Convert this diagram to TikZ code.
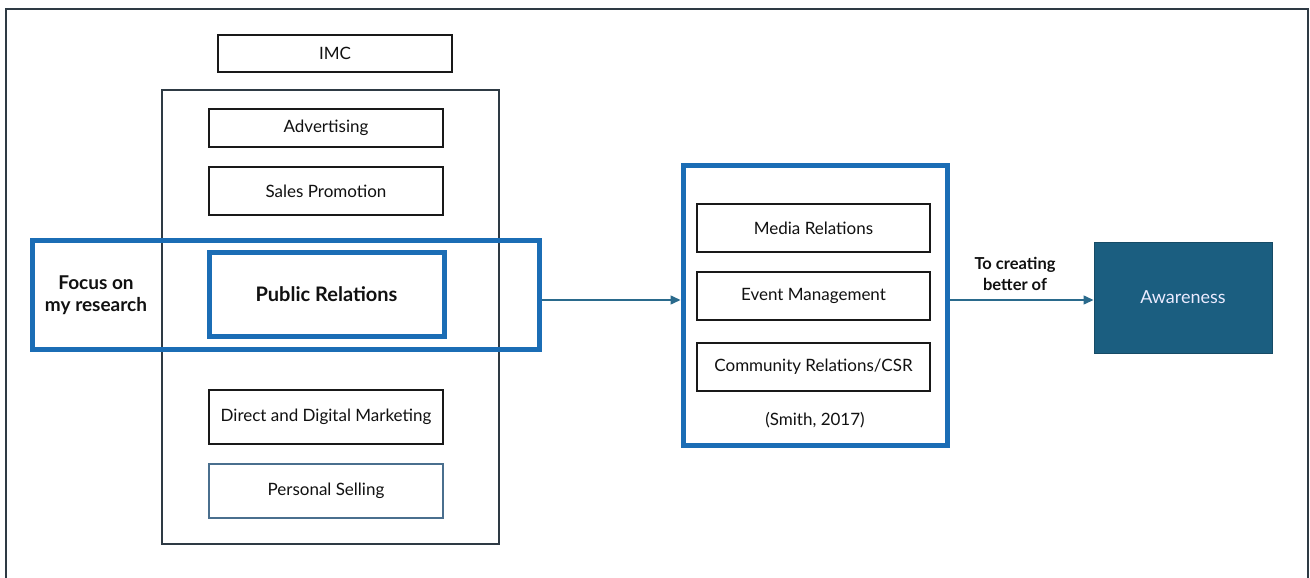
\documentclass[tikz,border=0pt]{standalone}
\usepackage{fontspec}
\setmainfont{Lato}
\usetikzlibrary{arrows.meta}
\definecolor{frameC}{HTML}{2E3A44}
\definecolor{blueC}{HTML}{1B6DB5}
\definecolor{arrowC}{HTML}{2A6A8C}
\definecolor{awareC}{HTML}{1B5E80}
\definecolor{psC}{HTML}{4A6F8E}
\definecolor{txtC}{HTML}{111111}
\tikzset{
  box/.style={draw=black!90, line width=1.5pt, fill=white, inner sep=0pt, text=txtC, font=\fontsize{17}{21}\selectfont},
  bluebox/.style={draw=blueC, line width=5pt, inner sep=0pt},
  conn/.style={draw=arrowC, line width=1.5pt, -{Triangle[length=10pt,width=9pt]}},
  boldlab/.style={font=\bfseries\fontsize{19}{22}\selectfont, align=center, inner sep=0pt, text=txtC}
}
\begin{document}
\begin{tikzpicture}[x=1pt,y=-1pt]
\useasboundingbox (0,0) rectangle (1310,578);
\clip (0,0) rectangle (1310,578);
\fill[white] (0,0) rectangle (1310,578);
% outer frame
\node[draw=frameC, line width=1.5pt, minimum width=1302, minimum height=600, inner sep=0pt] (frame) at (657,309) {};
% IMC title
\node[box, minimum width=234, minimum height=37] (imc) at (335,53.5) {IMC};
% IMC container
\node[draw=frameC, line width=1.5pt, minimum width=337, minimum height=454, inner sep=0pt] (cont) at (330.5,317) {};
\node[box, minimum width=234, minimum height=38] (adv) at (326,128) {Advertising};
\node[box, minimum width=234, minimum height=48] (sp) at (326,191) {Sales Promotion};
\node[box, minimum width=234, minimum height=54] (ddm) at (326,417) {Direct and Digital Marketing};
\node[box, draw=psC, minimum width=234, minimum height=54] (ps) at (326,491) {Personal Selling};
% focus box
\node[bluebox, minimum width=507, minimum height=109] (focus) at (285.5,294.5) {};
\node[bluebox, fill=white, minimum width=235, minimum height=84, text=txtC, font=\bfseries\fontsize{20}{24}\selectfont] (pr) at (326.5,294) {Public Relations};
\node[boldlab] (focuslab) at (96,295) {Focus on\\my research};
% PR tools box
\node[bluebox, minimum width=264, minimum height=280] (tools) at (815,305) {};
\node[box, minimum width=233, minimum height=48] (media) at (813.5,228) {Media Relations};
\node[box, minimum width=233, minimum height=48] (event) at (813.5,296) {Event Management};
\node[box, minimum width=233, minimum height=48] (comm) at (813.5,367) {Community Relations/CSR};
\node[inner sep=0pt, text=txtC, font=\fontsize{17}{21}\selectfont] (smith) at (815,420) {(Smith, 2017)};
% awareness
\node[draw=awareC!80!black, line width=1pt, fill=awareC, text=white!92!blue, minimum width=178, minimum height=111, inner sep=0pt, font=\fontsize{18}{21}\selectfont] (aware) at (1183,297.5) {Awareness};
\node[boldlab, font=\bfseries\fontsize{16.5}{21}\selectfont] (tolab) at (1015,274) {To creating\\better of};
% connectors
\draw[conn] (focus.east |- 0,300) -- (tools.west |- 0,300);
\draw[conn] (tools.east |- 0,300) -- (aware.west |- 0,300);
\end{tikzpicture}
\end{document}
